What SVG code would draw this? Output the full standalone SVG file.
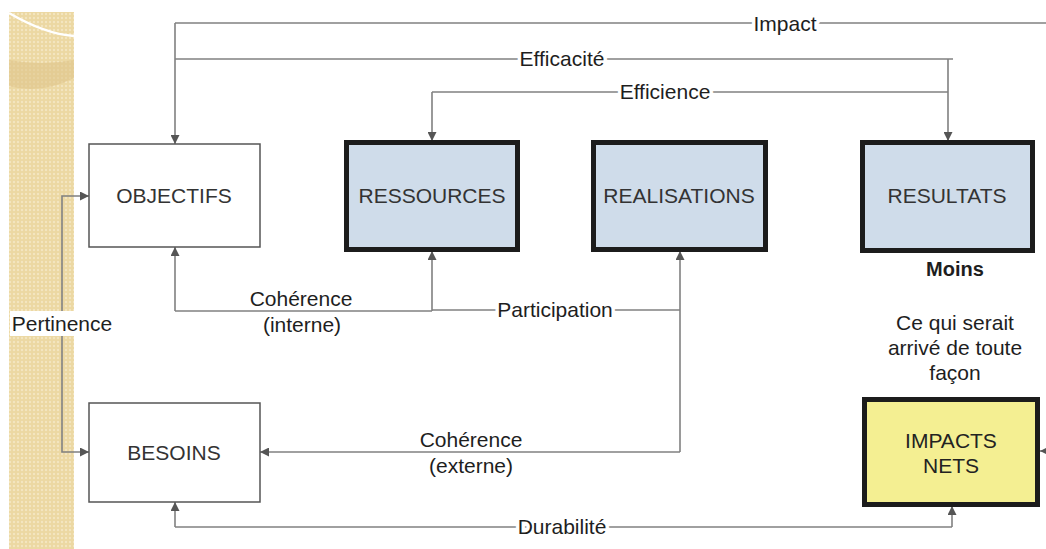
<svg xmlns="http://www.w3.org/2000/svg" width="1046" height="549" viewBox="0 0 1046 549">
<style>
.lbl{font-family:"Liberation Sans",Arial,sans-serif;font-size:21px;fill:#1e1e1e;text-anchor:middle;dominant-baseline:central;paint-order:stroke;stroke:#fff;stroke-width:7px;stroke-linejoin:round}
.note{font-family:"Liberation Sans",Arial,sans-serif;font-size:21px;fill:#1e1e1e;text-anchor:middle;dominant-baseline:central}
.box-text{font-family:"Liberation Sans",Arial,sans-serif;font-size:21px;fill:#333;text-anchor:middle;dominant-baseline:central}
.thin{fill:#fff;stroke:#555;stroke-width:1.5}
.thick{fill:#cfdcea;stroke:#1c1c1c;stroke-width:5}
.yellow{fill:#f4ef92;stroke:#1c1c1c;stroke-width:5}
.wire{fill:none;stroke:#808080;stroke-width:1.6}
.arrow{marker-end:url(#arr)}
</style>
<defs>
<marker id="arr" viewBox="0 0 10 10" refX="10" refY="5" markerWidth="9" markerHeight="9" markerUnits="userSpaceOnUse" orient="auto">
<path d="M0,0 L10,5 L0,10 z" fill="#555"/>
</marker>
<pattern id="dots" width="4" height="4" patternUnits="userSpaceOnUse">
<rect width="4" height="4" fill="#ecd8a2"/>
<circle cx="2" cy="2" r="1.2" fill="#f4e6c0"/>
</pattern>
</defs>
<rect width="1046" height="549" fill="#fff"/>
<g id="strip">
<rect x="9" y="12" width="65" height="537" fill="url(#dots)"/>
<path d="M9,60 Q40,66 74,60 L74,78 Q40,95 9,86 z" fill="#dfc58a" opacity="0.6"/>
<path d="M9,13 Q45,34 74,36" fill="none" stroke="#fff" stroke-width="2.5"/>
</g>
<g id="connectors">
<path class="wire" d="M175,23 H1046"/>
<path class="wire arrow" d="M175,23 V144"/>
<path class="wire" d="M175,59 H953"/>
<path class="wire arrow" d="M948,59 V141"/>
<path class="wire" d="M948,92 H432"/>
<path class="wire arrow" d="M432,92 V141"/>
<path class="wire arrow" d="M432,311 V251"/>
<path class="wire arrow" d="M175,311 V247"/>
<path class="wire" d="M175,311 H432"/>
<path class="wire" d="M432,310 H680"/>
<path class="wire arrow" d="M680,452 V251"/>
<path class="wire arrow" d="M680,452 H260"/>
<path class="wire arrow" d="M62,310 V196 H89"/>
<path class="wire arrow" d="M62,310 V452 H89"/>
<path class="wire arrow" d="M175,527 V502"/>
<path class="wire" d="M175,527 H952"/>
<path class="wire arrow" d="M952,527 V506"/>
<path class="wire arrow" d="M1050,451 H1040"/>
<text class="lbl" x="785" y="23">Impact</text>
<text class="lbl" x="562" y="58">Efficacité</text>
<text class="lbl" x="665" y="91">Efficience</text>
<text class="lbl" x="301" y="298">Cohérence</text>
<text class="lbl" x="302" y="324">(interne)</text>
<text class="lbl" x="555" y="309">Participation</text>
<text class="lbl" x="471" y="439">Cohérence</text>
<text class="lbl" x="471" y="465">(externe)</text>
<text class="lbl" x="562" y="526">Durabilité</text>
<rect x="10" y="311" width="106" height="25" fill="#fff"/>
<text class="note" x="62" y="323">Pertinence</text>
</g>
<g id="objectifs">
<rect class="thin" x="89" y="144" width="171" height="103"/>
<text class="box-text" x="174" y="195">OBJECTIFS</text>
</g>
<g id="ressources">
<rect class="thick" x="346.5" y="142.5" width="171" height="107"/>
<text class="box-text" x="432" y="195">RESSOURCES</text>
</g>
<g id="realisations">
<rect class="thick" x="593.5" y="142.5" width="172" height="107"/>
<text class="box-text" x="679" y="195">REALISATIONS</text>
</g>
<g id="resultats">
<rect class="thick" x="862.5" y="142.5" width="170" height="108"/>
<text class="box-text" x="947" y="195">RESULTATS</text>
</g>
<g id="besoins">
<rect class="thin" x="89" y="403" width="171" height="99"/>
<text class="box-text" x="174" y="452">BESOINS</text>
</g>
<g id="moins">
<text class="note" x="955" y="269" font-weight="bold" style="font-size:20px">Moins</text>
<text class="note" x="955" y="322">Ce qui serait</text>
<text class="note" x="955" y="347">arrivé de toute</text>
<text class="note" x="955" y="372">façon</text>
</g>
<g id="impacts-nets">
<rect class="yellow" x="864.5" y="399.5" width="173" height="105"/>
<text class="box-text" x="951" y="440" style="fill:#222">IMPACTS</text>
<text class="box-text" x="951" y="465" style="fill:#222">NETS</text>
</g>
</svg>
